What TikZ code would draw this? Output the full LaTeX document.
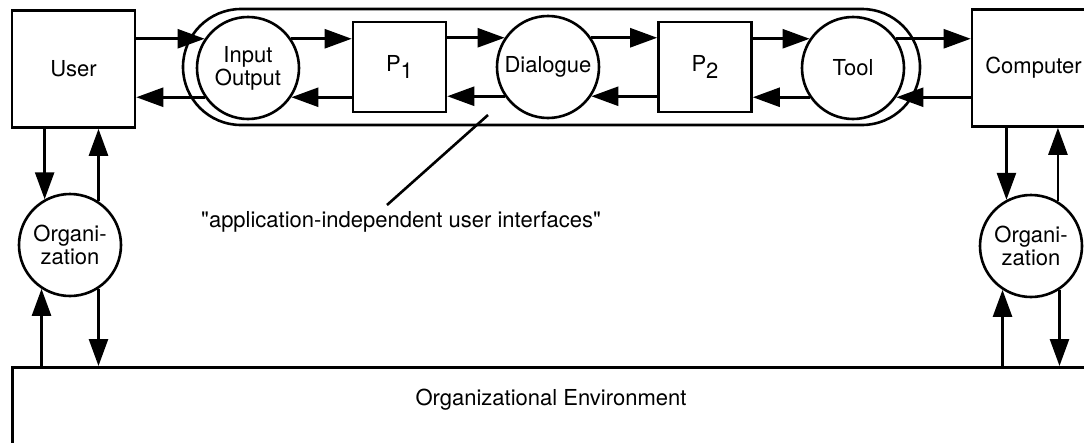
\documentclass[tikz,border=0pt]{standalone}
\usepackage{fontspec}
\setmainfont{TeX Gyre Heros}
\usetikzlibrary{arrows.meta}
\begin{document}
\begin{tikzpicture}[x=1pt,y=-1pt,
  line width=2.6pt,
  every node/.style={font=\fontsize{22}{23}\selectfont},
  box/.style={draw, minimum width=123pt, minimum height=117pt, inner sep=0pt},
  pbox/.style={draw, minimum width=93pt, minimum height=90pt, inner sep=0pt},
  proc/.style={draw, circle, minimum size=102pt, inner sep=0pt, align=center},
  capsule/.style={draw, rounded corners=58pt, minimum width=737pt, minimum height=116pt, inner sep=0pt},
  arr/.style={-{Triangle[length=27pt 0 0,width=19pt 0 0]}},
  lead/.style={line width=2.6pt},
]
\useasboundingbox (0,0) rectangle (1084,442);
\clip (0,0) rectangle (1084,442);

\node[capsule] (ui) at (551.5,67) {};
\node[box] (user) at (73.5,69) {User};
\node[box] (comp) at (1033.5,68) {Computer};
\node[proc] (io) at (248,68) {Input\\Output};
\node[pbox] (p1) at (399.5,67) {P\raisebox{-7pt}{1}};
\node[proc] (dia) at (548,67) {Dialogue};
\node[pbox] (p2) at (705,67) {P\raisebox{-7pt}{2}};
\node[proc] (tool) at (853,68) {Tool};
\node[proc] (orgL) at (70,245) {Organi-\\zation};
\node[proc] (orgR) at (1031,246) {Organi-\\zation};
\node[draw, minimum width=1100pt, minimum height=140pt, anchor=north west, inner sep=0pt] (env) at (11,366) {};
\node (envtext) at (551,400) {Organizational Environment};
\node (aiui) at (401,222) {\textquotedbl application-independent user interfaces\textquotedbl};

\coordinate (leadA) at (488,115);
\coordinate (leadB) at (387,205);
\draw[lead] (leadA) -- (leadB);

% top row, rightwards
\draw[arr] (user.east |- io.146) -- (io.146);
\draw[arr] (io.34) -- (p1.west |- io.34);
\draw[arr] (p1.east |- dia.146) -- (dia.146);
\draw[arr] (dia.34) -- (p2.west |- dia.34);
\draw[arr] (p2.east |- tool.146) -- (tool.146);
\draw[arr] (tool.34) -- (comp.west |- tool.34);
% bottom row, leftwards
\draw[arr] (comp.west |- tool.-34) -- (tool.-34);
\draw[arr] (tool.214) -- (p2.east |- tool.214);
\draw[arr] (p2.west |- dia.-34) -- (dia.-34);
\draw[arr] (dia.214) -- (p1.east |- dia.214);
\draw[arr] (p1.west |- io.-34) -- (io.-34);
\draw[arr] (io.214) -- (user.east |- io.214);

% left organization
\draw[arr] (user.south -| orgL.119) -- (orgL.119);
\draw[arr] (orgL.57) -- (user.south -| orgL.57);
\draw[arr] (env.north -| orgL.237) -- (orgL.237);
\draw[arr] (orgL.303) -- (env.north -| orgL.303);
% right organization
\draw[arr] (comp.south -| orgR.118) -- (orgR.118);
\draw[arr] (orgR.59) -- (comp.south -| orgR.59);
\draw[arr] (env.north -| orgR.237) -- (orgR.237);
\draw[arr] (orgR.303) -- (env.north -| orgR.303);
\end{tikzpicture}
\end{document}
